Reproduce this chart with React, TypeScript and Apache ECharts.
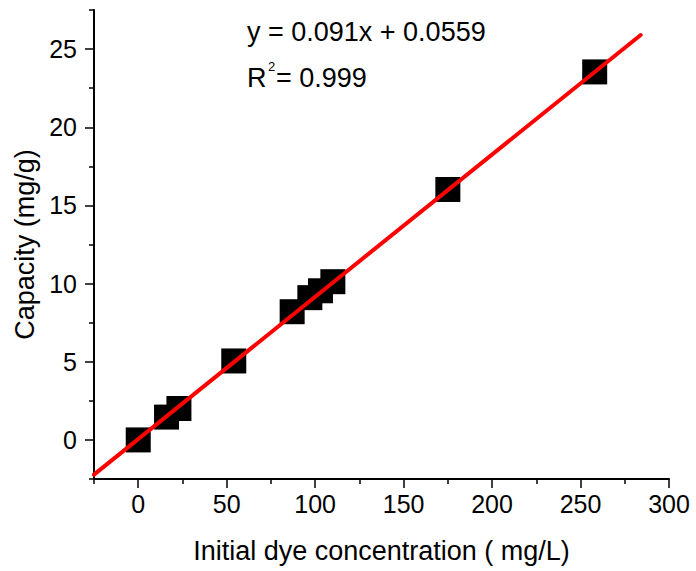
import React, { useEffect, useRef } from "react";
import * as echarts from "echarts";

const xData = [0, 16, 23, 54, 87, 97, 103, 110, 175, 258];
const yData = [0, 1.46, 2.01, 5.05, 8.2, 9.1, 9.54, 10.12, 16.02, 23.54];
const fitX = [-25, 284];
const fitY = [-2.22, 25.9];
const xTickLabels = [0, 50, 100, 150, 200, 250, 300];
const yTickLabels = [0, 5, 10, 15, 20, 25];
const xMinorTicks = [-25, 25, 75, 125, 175, 225, 275];
const yMinorTicks = [-2.5, 2.5, 7.5, 12.5, 17.5, 22.5, 27.5];

const FONT = "'Liberation Sans', Arial, sans-serif";

export default function App() {
  const ref = useRef<HTMLDivElement>(null);
  useEffect(() => {
    if (!ref.current) return;
    const chart = echarts.init(ref.current, undefined, { renderer: "svg" });
    const axisCommon = {
      type: "value",
      splitLine: { show: false },
    };
    chart.setOption({
      animation: false,
      backgroundColor: "#fff",
      textStyle: { fontFamily: FONT },
      grid: { left: 94, right: 27, top: 10, bottom: 92 },
      xAxis: [
        {
          ...axisCommon,
          min: -25,
          max: 300,
          interval: 25,
          position: "bottom",
          axisLine: { onZero: false, lineStyle: { color: "#000", width: 2 } },
          axisTick: { show: true, customValues: xMinorTicks, length: 5, lineStyle: { color: "#000", width: 1.5 } },
          axisLabel: { show: false },
          name: "Initial dye concentration ( mg/L)",
          nameLocation: "middle",
          nameGap: 58,
          nameTextStyle: { fontSize: 27, color: "#000", fontFamily: FONT },
        },
        {
          ...axisCommon,
          min: -25,
          max: 300,
          interval: 25,
          position: "bottom",
          axisLine: { show: false, onZero: false },
          axisTick: { show: true, customValues: xTickLabels, length: 9, lineStyle: { color: "#000", width: 1.5 } },
          axisLabel: { show: true, customValues: xTickLabels, margin: 12, fontSize: 25, color: "#000", fontFamily: FONT },
        },
      ],
      yAxis: [
        {
          ...axisCommon,
          min: -2.5,
          max: 27.5,
          interval: 2.5,
          position: "left",
          axisLine: { show: true, onZero: false, lineStyle: { color: "#000", width: 2 } },
          axisTick: { show: true, customValues: yMinorTicks, length: 5, lineStyle: { color: "#000", width: 1.5 } },
          axisLabel: { show: false },
          name: "Capacity (mg/g)",
          nameLocation: "middle",
          nameGap: 56,
          nameTextStyle: { fontSize: 27, color: "#000", fontFamily: FONT },
        },
        {
          ...axisCommon,
          min: -2.5,
          max: 27.5,
          interval: 2.5,
          position: "left",
          axisLine: { show: false, onZero: false },
          axisTick: { show: true, customValues: yTickLabels, length: 9, lineStyle: { color: "#000", width: 1.5 } },
          axisLabel: { show: true, customValues: yTickLabels, margin: 17, fontSize: 25, color: "#000", fontFamily: FONT },
        },
      ],
      series: [
        {
          type: "scatter",
          xAxisIndex: 0,
          yAxisIndex: 0,
          symbol: "rect",
          symbolSize: 25,
          itemStyle: { color: "#000", opacity: 1 },
          data: xData.map((x, i) => [x, yData[i]]),
          z: 2,
        },
        {
          type: "line",
          xAxisIndex: 0,
          yAxisIndex: 0,
          showSymbol: false,
          symbol: "none",
          lineStyle: { color: "#ff0000", width: 4, cap: "round", opacity: 1 },
          data: fitX.map((x, i) => [x, fitY[i]]),
          z: 3,
        },
      ],
      graphic: [
        { type: "text", x: 247, y: 32, style: { text: "y = 0.091x + 0.0559", font: `27px ${FONT}`, fill: "#000", verticalAlign: "middle" } },
        { type: "text", x: 247, y: 78, style: { text: "R", font: `27px ${FONT}`, fill: "#000", verticalAlign: "middle" } },
        { type: "text", x: 268, y: 66, style: { text: "2", font: `13px ${FONT}`, fill: "#000", verticalAlign: "middle" } },
        { type: "text", x: 276, y: 78, style: { text: "= 0.999", font: `27px ${FONT}`, fill: "#000", verticalAlign: "middle" } },
      ],
    });
    return () => chart.dispose();
  }, []);
  return (
    <div
      ref={ref}
      style={{ position: "fixed", left: 0, top: 0, width: 696, height: 571, background: "#fff" }}
    />
  );
}
